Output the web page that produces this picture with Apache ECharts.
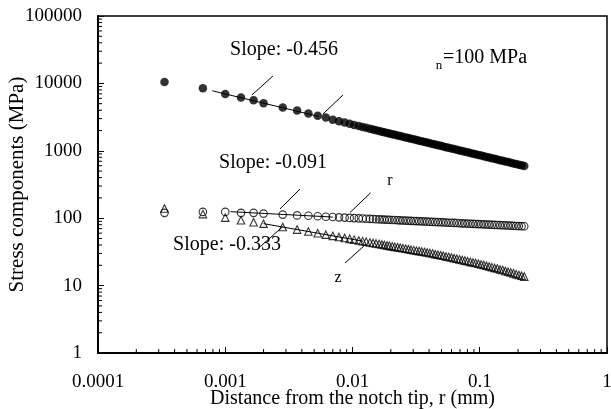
<!DOCTYPE html>
<html><head><meta charset="utf-8">
<script src="https://cdn.jsdelivr.net/npm/echarts@6/dist/echarts.min.js"></script>
<style>html,body{margin:0;padding:0;background:#fff}#c{width:611px;height:409px}</style>
</head><body><div id="c"></div>
<script>
// Distance from the notch tip, r (mm)
const distance = [0.000333, 0.000667, 0.001, 0.00133, 0.00167, 0.002, 0.00283, 0.00367, 0.0045, 0.00533, 0.00617, 0.007, 0.00783, 0.00867, 0.0095, 0.0103, 0.0112, 0.012, 0.0128, 0.0137, 0.0145, 0.0153, 0.0162, 0.017, 0.0178, 0.0187, 0.0195,
  0.0205, 0.0215, 0.0226, 0.0237, 0.0249, 0.0262, 0.0275, 0.0288, 0.0303, 0.0318, 0.0334, 0.0350, 0.0368, 0.0386, 0.0405, 0.0426, 0.0447, 0.0469, 0.0493, 0.0517,
  0.0543, 0.0570, 0.0599, 0.0629, 0.0660, 0.0693, 0.0728, 0.0764, 0.0803, 0.0843, 0.0885, 0.0929, 0.0976, 0.1025, 0.1076, 0.1130, 0.1186, 0.1245, 0.1308, 0.1373,
  0.1442, 0.1514, 0.1590, 0.1669, 0.1752, 0.1840, 0.1932, 0.2029, 0.2130, 0.2237];
// hoop stress (filled circles)
const sigmaTheta = [10500, 8470, 6980, 6160, 5630, 5080, 4380, 3950, 3570, 3300, 3110, 2900, 2750, 2620, 2510, 2420, 2330, 2250, 2190, 2120, 2070, 2020, 1970, 1920, 1880, 1840, 1810,
  1766, 1728, 1690, 1653, 1616, 1580, 1546, 1512, 1479, 1446, 1414, 1384, 1353, 1323, 1294, 1266, 1238, 1211, 1184, 1158,
  1133, 1108, 1084, 1060, 1036, 1014, 992, 970, 949, 928, 908, 888, 868, 849, 830, 812, 794, 777, 760, 743,
  727, 711, 695, 680, 665, 650, 636, 622, 608, 595];
// radial stress (open circles)
const sigmaR = [120, 124, 124, 120, 120, 117, 113, 110, 109, 107, 105, 104, 103, 102, 101, 100.3, 99.5, 98.9, 98.3, 97.7, 97.2, 96.7, 96.2, 95.8, 95.4, 95.0, 94.6,
  94.2, 93.8, 93.4, 92.9, 92.5, 92.1, 91.7, 91.3, 90.9, 90.5, 90.1, 89.7, 89.3, 88.9, 88.5, 88.1, 87.7, 87.4, 87.0, 86.6,
  86.2, 85.8, 85.4, 85.1, 84.7, 84.3, 83.9, 83.5, 83.2, 82.8, 82.4, 82.1, 81.7, 81.3, 81.0, 80.6, 80.3, 79.9, 79.5, 79.2,
  78.8, 78.5, 78.2, 77.8, 77.5, 77.1, 76.8, 76.4, 76.1, 75.8];
// axial stress (open triangles)
const sigmaZ = [139, 115, 102, 93, 87, 83, 73.9, 67.8, 63.4, 59.9, 57.0, 54.7, 52.7, 50.9, 49.4, 48.1, 46.8, 45.7, 44.7, 43.7, 42.9, 42.1, 41.4, 40.7, 40.1, 39.4, 38.9,
  38.2, 37.6, 37.0, 36.4, 35.8, 35.3, 34.7, 34.1, 33.6, 33.0, 32.5, 32.0, 31.5, 31.0, 30.5, 29.9, 29.3, 28.7, 28.2, 27.7,
  27.1, 26.6, 26.1, 25.5, 25.0, 24.5, 24.0, 23.5, 23.0, 22.5, 22.0, 21.6, 21.1, 20.6, 20.2, 19.7, 19.2, 18.8, 18.3, 17.9,
  17.4, 17.0, 16.5, 16.1, 15.7, 15.2, 14.8, 14.4, 14.0, 13.6];
// power-law fit lines [x, y] endpoints
const fitTheta = [[0.00079, 7770], [0.0054, 3240]];
const fitR = [[0.0011, 125], [0.007, 104]];
const fitZ = [[0.002, 83], [0.0121, 45.6]];
// leader lines for annotations (data coordinates)
const leaders = [
  [[0.00237, 12880], [0.00162, 6730]],
  [[0.00842, 6730], [0.00586, 3515]],
  [[0.00387, 271], [0.00269, 137]],
  [[0.0139, 239], [0.00955, 121]],
  [[0.00283, 74.8], [0.00188, 37.8]],
  [[0.0128, 41.4], [0.00873, 21.6]]
];
const xTickLabels = ['0.0001', '0.001', '0.01', '0.1', '1'];
const yTickLabels = ['1', '10', '100', '1000', '10000', '100000'];

const FONT = '"Liberation Serif", "Times New Roman", serif';
const xMinor = [], yMinor = [];
for (let e = -4; e <= -1; e++) for (let k = 2; k <= 9; k++) xMinor.push([k * Math.pow(10, e), 1]);
for (let e = 0; e <= 4; e++) for (let k = 2; k <= 9; k++) yMinor.push([0.0001, k * Math.pow(10, e)]);

const zip = (xs, ys) => xs.map((x, i) => [x, ys[i]]);
const lineStyle = { color: '#000', width: 1 };
const series = [];
series.push({ type: 'line', data: fitTheta, symbol: 'none', lineStyle, z: 3, silent: true });
series.push({ type: 'line', data: fitR, symbol: 'none', lineStyle, z: 3, silent: true });
series.push({ type: 'line', data: fitZ, symbol: 'none', lineStyle, z: 3, silent: true });
leaders.forEach(seg => series.push({ type: 'line', data: seg, symbol: 'none', lineStyle, z: 3, silent: true }));
series.push({ type: 'scatter', data: zip(distance, sigmaTheta), symbol: 'circle', symbolSize: 8.5,
  itemStyle: { color: '#000' }, z: 4 });
series.push({ type: 'scatter', data: zip(distance, sigmaR), symbol: 'circle', symbolSize: 7.5,
  itemStyle: { color: 'rgba(0,0,0,0)', borderColor: '#000', borderWidth: 1.1 }, z: 4 });
series.push({ type: 'scatter', data: zip(distance, sigmaZ), symbol: 'triangle', symbolSize: 7.5,
  itemStyle: { color: 'rgba(0,0,0,0)', borderColor: '#000', borderWidth: 1.1 }, z: 4 });
// minor ticks (at 2..9 within each decade)
series.push({ type: 'custom', data: xMinor, silent: true, z: 5,
  renderItem: (params, api) => { const p = api.coord([api.value(0), api.value(1)]);
    return { type: 'line', shape: { x1: p[0], y1: p[1], x2: p[0], y2: p[1] - 4 }, style: { stroke: '#000', lineWidth: 1 } }; } });
series.push({ type: 'custom', data: yMinor, silent: true, z: 5,
  renderItem: (params, api) => { const p = api.coord([api.value(0), api.value(1)]);
    return { type: 'line', shape: { x1: p[0], y1: p[1], x2: p[0] + 4, y2: p[1] }, style: { stroke: '#000', lineWidth: 1 } }; } });

const txt = (t, x, y, size, align) => ({ type: 'text', x, y, z: 10,
  style: { text: t, font: size + 'px ' + FONT, fill: '#000', align: align || 'center', verticalAlign: 'middle' } });

const chart = echarts.init(document.getElementById('c'), null, { renderer: 'canvas' });
chart.setOption({
  animation: false,
  backgroundColor: '#fff',
  grid: { left: 98, right: 4, top: 16, bottom: 56, outerBoundsMode: 'none', containLabel: false,
    show: true, borderColor: '#000', borderWidth: 1.5, backgroundColor: 'transparent' },
  xAxis: {
    type: 'log', logBase: 10, min: 0.0001, max: 1,
    name: 'Distance from the notch tip, r (mm)', nameLocation: 'middle', nameGap: 36, nameMoveOverlap: false,
    nameTextStyle: { fontFamily: FONT, fontSize: 20, color: '#000' },
    axisLine: { lineStyle: { color: '#000', width: 2 } },
    axisTick: { inside: true, length: 6, lineStyle: { color: '#000', width: 1 } },
    axisLabel: { fontFamily: FONT, fontSize: 19, color: '#000', margin: 20, hideOverlap: false,
      formatter: v => xTickLabels[Math.round(Math.log10(v)) + 4] },
    splitLine: { show: false }
  },
  yAxis: {
    type: 'log', logBase: 10, min: 1, max: 100000,
    name: 'Stress components (MPa)', nameLocation: 'middle', nameGap: 70, nameMoveOverlap: false,
    nameTextStyle: { fontFamily: FONT, fontSize: 21, color: '#000' },
    axisLine: { lineStyle: { color: '#000', width: 2 } },
    axisTick: { inside: true, length: 6, lineStyle: { color: '#000', width: 1 } },
    axisLabel: { fontFamily: FONT, fontSize: 19, color: '#000', margin: 16, hideOverlap: false,
      formatter: v => yTickLabels[Math.round(Math.log10(v))] },
    splitLine: { show: false }
  },
  graphic: [
    txt('Slope: -0.456', 284, 50, 20),
    txt('n', 439, 66, 13),
    txt('=100 MPa', 443, 58, 20, 'left'),
    txt('Slope: -0.091', 273, 163, 20),
    txt('r', 390, 181, 16),
    txt('Slope: -0.333', 227, 245, 20),
    txt('z', 338, 278, 16)
  ],
  series
});
</script></body></html>
